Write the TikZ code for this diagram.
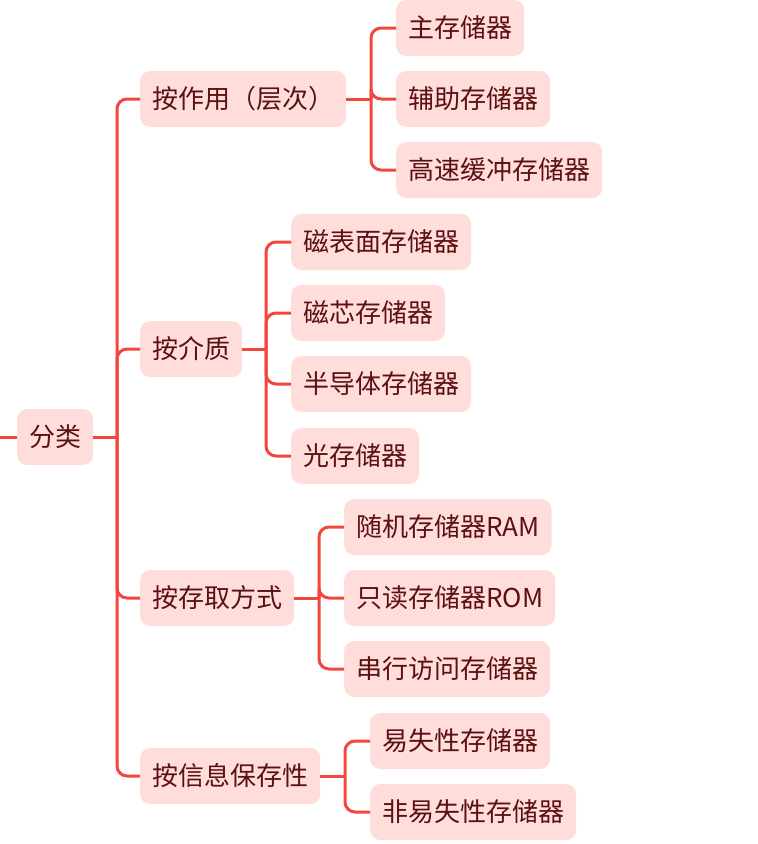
\documentclass[tikz,border=0pt]{standalone}
\usepackage{fontspec}
\setmainfont{Noto Sans CJK SC}
\begin{document}
\begin{tikzpicture}[x=1pt,y=-1pt,
  box/.style={anchor=west,fill=boxfill,text=boxtext,rounded corners=10pt,
    minimum height=56pt,inner xsep=12pt,inner ysep=0pt,
    font=\fontsize{26}{30}\selectfont},
  conn/.style={draw=linecol,line width=3pt,rounded corners=10pt}]
\definecolor{boxfill}{HTML}{FFDDDB}
\definecolor{boxtext}{HTML}{5C1010}
\definecolor{linecol}{HTML}{F2463F}
\useasboundingbox (0,0) rectangle (758,844);
% nodes
\node[box] (root) at (17,437) {分类};
\node[box] (a) at (140,99) {按作用（层次）};
\node[box] (a1) at (396,28) {主存储器};
\node[box] (a2) at (396,99) {辅助存储器};
\node[box] (a3) at (396,170) {高速缓冲存储器};
\node[box] (b) at (140,349) {按介质};
\node[box] (b1) at (291,242) {磁表面存储器};
\node[box] (b2) at (291,313) {磁芯存储器};
\node[box] (b3) at (291,384) {半导体存储器};
\node[box] (b4) at (291,456) {光存储器};
\node[box] (c) at (140,598) {按存取方式};
\node[box] (c1) at (344,527) {随机存储器RAM};
\node[box] (c2) at (344,598) {只读存储器ROM};
\node[box] (c3) at (344,669) {串行访问存储器};
\node[box] (d) at (140,776) {按信息保存性};
\node[box] (d1) at (370,741) {易失性存储器};
\node[box] (d2) at (370,812) {非易失性存储器};
% junctions
\coordinate (in) at (0,437);
\coordinate (j0) at (117,437);
\coordinate (ja) at (371,99);
\coordinate (jb) at (266,349);
\coordinate (jc) at (319,598);
\coordinate (jd) at (345,776);
% connectors
\draw[conn] (in) -- (root.west);
\draw[conn] (root.east) -- (j0);
\foreach \t in {a,b,c,d} \draw[conn] (j0) |- (\t.west);
\draw[conn] (a.east) -- (ja);
\foreach \t in {a1,a2,a3} \draw[conn] (ja) |- (\t.west);
\draw[conn] (b.east) -- (jb);
\foreach \t in {b1,b2,b3,b4} \draw[conn] (jb) |- (\t.west);
\draw[conn] (c.east) -- (jc);
\foreach \t in {c1,c2,c3} \draw[conn] (jc) |- (\t.west);
\draw[conn] (d.east) -- (jd);
\foreach \t in {d1,d2} \draw[conn] (jd) |- (\t.west);
\end{tikzpicture}
\end{document}
